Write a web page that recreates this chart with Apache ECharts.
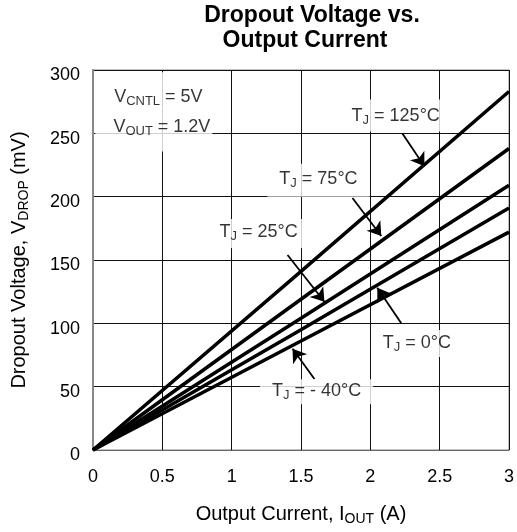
<!DOCTYPE html>
<html>
<head>
<meta charset="utf-8">
<script src="https://cdn.jsdelivr.net/npm/echarts@6/dist/echarts.min.js"></script>
<style>
  html, body { margin: 0; padding: 0; background: #fff; }
  #chart { width: 517px; height: 532px; }
</style>
</head>
<body>
<div id="chart"></div>
<script>
// output current, A
var current = [0, 1.5, 3];
// dropout voltage, mV, per junction temperature
var drop125 = [0, 141, 283];
var drop75 = [0, 119, 238];
var drop25 = [0, 104, 209];
var drop0 = [0, 95, 191];
var dropM40 = [0, 86, 172];

var xTicks = [0, 0.5, 1, 1.5, 2, 2.5, 3];
var yTicks = [0, 50, 100, 150, 200, 250, 300];

// annotation labels: [x, y, text, padding]
var noteLabels = [
  [2.183, 264, '{t|T}{s|J}{t| = 125°C}', [5, 8, 5, 8]],
  [1.626, 213, '{t|T}{s|J}{t| = 75°C}', [4, 12, 7, 12]],
  [1.194, 171, '{t|T}{s|J}{t| = 25°C}', [2, 10, 5, 10]],
  [2.335, 84, '{t|T}{s|J}{t| = 0°C}', [2, 10, 3, 10]],
  [1.612, 46, '{t|T}{s|J}{t| = - 40°C}', [1, 12, 2, 12]]
];
// arrows: [x1, y1, x2, y2] (tail -> head)
var noteArrows = [
  [2.230, 250, 2.390, 224],
  [1.871, 199, 2.079, 169],
  [1.403, 154, 1.669, 117],
  [2.223, 100, 2.050, 128],
  [1.597, 56, 1.439, 80]
];
// conditions box
var condLabels = [
  [0.439, 284, '{t|V}{s|CNTL}{t| = 5V}', [14, 9, 0, 18]],
  [0.439, 253, '{t|V}{s|OUT}{t| = 1.2V}', [8, 2, 14, 18]]
];

var font = '"Liberation Sans", Arial, sans-serif';
var rich = {
  t: { fontSize: 18, lineHeight: 22, color: '#000', fontFamily: font },
  s: { fontSize: 13, lineHeight: 15, verticalAlign: 'bottom', color: '#000', fontFamily: font }
};
var nameRich = {
  t: { fontSize: 20, lineHeight: 24, color: '#000', fontFamily: font },
  s: { fontSize: 14, lineHeight: 16, verticalAlign: 'bottom', color: '#000', fontFamily: font }
};

function pairs(xs, ys) {
  var out = [];
  for (var i = 0; i < xs.length; i++) {
    out.push([xs[i], ys[i]]);
  }
  return out;
}

function curve(name, ys) {
  return {
    name: name,
    type: 'line',
    data: pairs(current, ys),
    showSymbol: false,
    lineStyle: { color: '#000', width: 3.5 },
    silent: true,
    z: 3
  };
}

function notes(list) {
  return list.map(function (n) {
    return { value: [n[0], n[1]], name: n[2], label: { padding: n[3] } };
  });
}

var myChart = echarts.init(document.getElementById('chart'));
var option = {
  animation: false,
  backgroundColor: '#fff',
  textStyle: { fontFamily: font },
  graphic: [{
    type: 'text',
    x: 312,
    y: 16,
    style: {
      text: 'Dropout Voltage vs.',
      fontFamily: font, fontWeight: 'bold', fontSize: 23,
      textAlign: 'center', textVerticalAlign: 'middle', fill: '#000'
    }
  }, {
    type: 'text',
    x: 305,
    y: 41,
    style: {
      text: 'Output Current',
      fontFamily: font, fontWeight: 'bold', fontSize: 23,
      textAlign: 'center', textVerticalAlign: 'middle', fill: '#000'
    }
  }],
  grid: {
    left: 93,
    right: 7,
    top: 70,
    bottom: 82,
    show: true,
    borderColor: '#888',
    borderWidth: 1
  },
  xAxis: {
    type: 'value',
    min: xTicks[0],
    max: xTicks[xTicks.length - 1],
    interval: 0.5,
    name: '{t|Output Current, I}{s|OUT}{t| (A)}',
    nameLocation: 'middle',
    nameGap: 52,
    nameTextStyle: { fontSize: 20, color: '#000', rich: nameRich },
    axisLine: { lineStyle: { color: '#666', width: 1 } },
    axisTick: { show: false },
    axisLabel: { fontSize: 18, color: '#000', margin: 18 },
    splitLine: { show: true, lineStyle: { color: '#111', width: 1 } }
  },
  yAxis: {
    type: 'value',
    min: yTicks[0],
    max: yTicks[yTicks.length - 1],
    interval: 50,
    name: '{t|Dropout Voltage, V}{s|DROP}{t| (mV)}',
    nameLocation: 'middle',
    nameGap: 62,
    nameTextStyle: { fontSize: 20, color: '#000', rich: nameRich },
    axisLine: { show: true, lineStyle: { color: '#888', width: 2 } },
    axisTick: { show: false },
    axisLabel: { fontSize: 18, color: '#000', margin: 13, verticalAlign: 'top', lineHeight: 11 },
    splitLine: { show: true, lineStyle: { color: '#111', width: 1 } }
  },
  series: [
    curve('125', drop125),
    curve('75', drop75),
    curve('25', drop25),
    curve('0', drop0),
    curve('-40', dropM40),
    {
      type: 'lines',
      coordinateSystem: 'cartesian2d',
      silent: true,
      z: 4,
      symbol: ['none', 'arrow'],
      symbolSize: 13,
      lineStyle: { color: '#000', width: 1.8, opacity: 1, curveness: 0 },
      data: noteArrows.map(function (a) {
        return { coords: [[a[0], a[1]], [a[2], a[3]]] };
      })
    },
    {
      type: 'scatter',
      silent: true,
      symbolSize: 0,
      z: 5,
      data: notes(noteLabels).concat(notes(condLabels)),
      label: {
        show: true,
        position: 'inside',
        formatter: '{b}',
        backgroundColor: '#fff',
        rich: rich
      }
    }
  ]
};
myChart.setOption(option);
</script>
</body>
</html>
